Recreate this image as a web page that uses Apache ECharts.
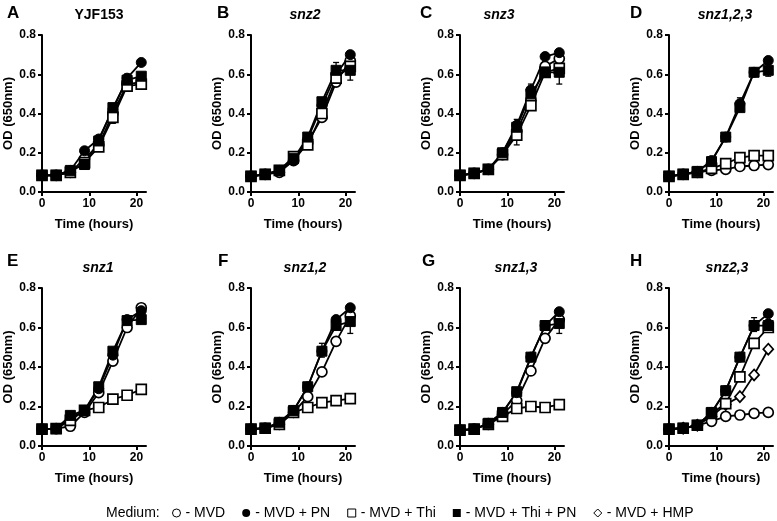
<!DOCTYPE html>
<html><head><meta charset="utf-8">
<script src="https://cdn.jsdelivr.net/npm/echarts@6/dist/echarts.min.js"></script>
<style>html,body{margin:0;padding:0;background:#fff}#c{width:777px;height:521px}</style>
</head><body><div id="c"></div>
<script>
// ---------- data ----------
const times = [0, 3, 6, 9, 12, 15, 18, 21];
const xTickValues = [0, 10, 20];
const yTickValues = [0, 0.2, 0.4, 0.6, 0.8];
const panelLetters = ['A', 'B', 'C', 'D', 'E', 'F', 'G', 'H'];
const panelTitles = ['YJF153', 'snz2', 'snz3', 'snz1,2,3', 'snz1', 'snz1,2', 'snz1,3', 'snz2,3'];
const mediumNames = ['- MVD', '- MVD + PN', '- MVD + Thi', '- MVD + Thi + PN', '- MVD + HMP'];

// A  YJF153
const A_MVD   = [0.085, 0.085, 0.10, 0.17, 0.24, 0.40, 0.55, 0.56];
const A_PN    = [0.085, 0.085, 0.11, 0.21, 0.27, 0.42, 0.58, 0.66];
const A_Thi   = [0.085, 0.085, 0.10, 0.15, 0.23, 0.38, 0.54, 0.55];
const A_ThiPN = [0.085, 0.085, 0.11, 0.14, 0.26, 0.43, 0.57, 0.59];
const A_err   = [[15, 0.35, 0.44], [18, 0.52, 0.60]];
// B  snz2
const B_MVD   = [0.08, 0.09, 0.10, 0.16, 0.25, 0.38, 0.56, 0.67];
const B_PN    = [0.08, 0.09, 0.11, 0.16, 0.27, 0.44, 0.60, 0.70];
const B_Thi   = [0.08, 0.09, 0.11, 0.18, 0.24, 0.40, 0.58, 0.64];
const B_ThiPN = [0.08, 0.09, 0.11, 0.17, 0.28, 0.46, 0.62, 0.62];
const B_err   = [[18, 0.58, 0.66], [21, 0.57, 0.67]];
// C  snz3
const C_MVD   = [0.085, 0.095, 0.115, 0.19, 0.31, 0.47, 0.64, 0.68];
const C_PN    = [0.085, 0.095, 0.115, 0.20, 0.34, 0.52, 0.69, 0.71];
const C_Thi   = [0.085, 0.095, 0.115, 0.19, 0.29, 0.44, 0.61, 0.63];
const C_ThiPN = [0.085, 0.095, 0.115, 0.20, 0.33, 0.50, 0.61, 0.61];
const C_err   = [[12, 0.24, 0.37], [15, 0.43, 0.55], [18, 0.64, 0.71], [21, 0.55, 0.66]];
// D  snz1,2,3
const D_MVD   = [0.08, 0.09, 0.10, 0.11, 0.115, 0.13, 0.135, 0.14];
const D_PN    = [0.08, 0.09, 0.105, 0.16, 0.28, 0.45, 0.61, 0.67];
const D_Thi   = [0.08, 0.09, 0.10, 0.12, 0.145, 0.175, 0.185, 0.185];
const D_ThiPN = [0.08, 0.09, 0.105, 0.155, 0.28, 0.43, 0.61, 0.62];
const D_err   = [[15, 0.41, 0.48], [18, 0.59, 0.63], [21, 0.59, 0.65]];
// E  snz1
const E_MVD   = [0.085, 0.088, 0.10, 0.17, 0.27, 0.43, 0.60, 0.70];
const E_PN    = [0.085, 0.088, 0.14, 0.18, 0.29, 0.46, 0.64, 0.685];
const E_Thi   = [0.085, 0.088, 0.13, 0.18, 0.195, 0.237, 0.257, 0.287];
const E_ThiPN = [0.085, 0.088, 0.155, 0.18, 0.30, 0.48, 0.635, 0.64];
const E_err   = [];
// F  snz1,2
const F_MVD   = [0.085, 0.09, 0.11, 0.17, 0.25, 0.375, 0.53, 0.66];
const F_PN    = [0.085, 0.09, 0.12, 0.18, 0.30, 0.48, 0.64, 0.70];
const F_Thi   = [0.085, 0.09, 0.11, 0.17, 0.195, 0.22, 0.23, 0.24];
const F_ThiPN = [0.085, 0.09, 0.12, 0.18, 0.30, 0.48, 0.61, 0.63];
const F_err   = [[15, 0.45, 0.52], [21, 0.57, 0.68]];
// G  snz1,3
const G_MVD   = [0.08, 0.085, 0.11, 0.16, 0.23, 0.38, 0.545, 0.64];
const G_PN    = [0.08, 0.085, 0.115, 0.17, 0.27, 0.45, 0.61, 0.68];
const G_Thi   = [0.08, 0.085, 0.11, 0.15, 0.19, 0.20, 0.195, 0.21];
const G_ThiPN = [0.08, 0.085, 0.115, 0.17, 0.275, 0.45, 0.61, 0.62];
const G_err   = [[18, 0.59, 0.63], [21, 0.57, 0.67]];
// H  snz2,3
const H_MVD   = [0.085, 0.09, 0.105, 0.125, 0.15, 0.157, 0.165, 0.17];
const H_PN    = [0.085, 0.09, 0.105, 0.17, 0.28, 0.45, 0.61, 0.67];
const H_Thi   = [0.085, 0.09, 0.105, 0.165, 0.215, 0.35, 0.52, 0.60];
const H_ThiPN = [0.085, 0.09, 0.105, 0.17, 0.28, 0.45, 0.61, 0.61];
const H_HMP   = [0.085, 0.09, 0.105, 0.15, 0.21, 0.25, 0.36, 0.49];
const H_err   = [[18, 0.58, 0.65], [21, 0.58, 0.64]];

const panels = [
  {mvd: A_MVD, pn: A_PN, thi: A_Thi, thipn: A_ThiPN, err: A_err},
  {mvd: B_MVD, pn: B_PN, thi: B_Thi, thipn: B_ThiPN, err: B_err},
  {mvd: C_MVD, pn: C_PN, thi: C_Thi, thipn: C_ThiPN, err: C_err},
  {mvd: D_MVD, pn: D_PN, thi: D_Thi, thipn: D_ThiPN, err: D_err},
  {mvd: E_MVD, pn: E_PN, thi: E_Thi, thipn: E_ThiPN, err: E_err},
  {mvd: F_MVD, pn: F_PN, thi: F_Thi, thipn: F_ThiPN, err: F_err},
  {mvd: G_MVD, pn: G_PN, thi: G_Thi, thipn: G_ThiPN, err: G_err},
  {mvd: H_MVD, pn: H_PN, thi: H_Thi, thipn: H_ThiPN, hmp: H_HMP, err: H_err}
];

// ---------- layout ----------
const FONT = 'Liberation Sans, Arial, sans-serif';
const colLeft = [42, 251, 460, 669];
const rowTop = [35, 288];
const rowH = [157, 158];
const gridW = 104;
const titleX = [94, 300, 494, 720, 93, 300, 511, 722];
const letterX = [2, 212, 415, 625, 2, 213, 417, 625];
const titleTop = [3, 256];
const letterTop = [0, 248];

const grids = [], xAxes = [], yAxes = [], series = [], titles = [];
const pair = arr => arr.map((v, i) => [times[i], v]);

function lineSeries(name, data, idx, symbol, filled, size) {
  return {
    type: 'line', name, data: pair(data), xAxisIndex: idx, yAxisIndex: idx,
    symbol, symbolSize: size, showSymbol: true, animation: false,
    lineStyle: {color: '#000', width: 1.8},
    itemStyle: filled ? {color: '#000', borderColor: '#000', borderWidth: 1}
                      : {color: '#fff', borderColor: '#000', borderWidth: 1.7},
    emphasis: {disabled: true}
  };
}

panels.forEach((p, i) => {
  const r = i < 4 ? 0 : 1, c = i % 4;
  grids.push({left: colLeft[c], top: rowTop[r], width: gridW, height: rowH[r], containLabel: false});
  xAxes.push({
    type: 'value', gridIndex: i, min: 0, max: 22, interval: 10,
    axisLine: {lineStyle: {color: '#000', width: 2}},
    axisTick: {show: true, length: 4, lineStyle: {color: '#000', width: 2}, customValues: xTickValues},
    splitLine: {show: false},
    axisLabel: {color: '#000', fontWeight: 'bold', fontSize: 12, fontFamily: FONT, margin: 6, customValues: xTickValues},
    name: 'Time (hours)', nameLocation: 'middle', nameGap: 26,
    nameTextStyle: {color: '#000', fontWeight: 'bold', fontSize: 13, fontFamily: FONT}
  });
  yAxes.push({
    type: 'value', gridIndex: i, min: 0, max: 0.8, interval: 0.2,
    axisLine: {show: true, lineStyle: {color: '#000', width: 2}},
    axisTick: {show: true, length: 4, lineStyle: {color: '#000', width: 2}},
    splitLine: {show: false},
    axisLabel: {color: '#000', fontWeight: 'bold', fontSize: 12, fontFamily: FONT, margin: 6,
                formatter: v => v.toFixed(1)},
    name: 'OD (650nm)', nameLocation: 'middle', nameGap: 27, nameRotate: 90,
    nameTextStyle: {color: '#000', fontWeight: 'bold', fontSize: 13, fontFamily: FONT}
  });
  titles.push({text: panelLetters[i], left: letterX[i], top: letterTop[r],
    textStyle: {fontSize: 17, fontWeight: 'bold', color: '#000', fontFamily: FONT}});
  titles.push({text: panelTitles[i], left: titleX[i], top: titleTop[r], textAlign: 'center',
    textStyle: {fontSize: 14, fontWeight: 'bold', fontStyle: i === 0 ? 'normal' : 'italic', color: '#000', fontFamily: FONT}});

  series.push({
    type: 'custom', xAxisIndex: i, yAxisIndex: i, data: p.err, z: 1, animation: false, silent: true,
    renderItem: (params, api) => {
      const x = api.value(0), lo = api.value(1), hi = api.value(2);
      const a = api.coord([x, lo]), b = api.coord([x, hi]);
      const w = 3;
      const st = {stroke: '#000', lineWidth: 1.3};
      return {type: 'group', children: [
        {type: 'line', shape: {x1: a[0], y1: a[1], x2: b[0], y2: b[1]}, style: st},
        {type: 'line', shape: {x1: a[0] - w, y1: a[1], x2: a[0] + w, y2: a[1]}, style: st},
        {type: 'line', shape: {x1: b[0] - w, y1: b[1], x2: b[0] + w, y2: b[1]}, style: st}
      ]};
    }
  });
  if (p.hmp) series.push(lineSeries(mediumNames[4], p.hmp, i, 'diamond', false, [10, 11]));
  series.push(lineSeries(mediumNames[0], p.mvd, i, 'circle', false, 10));
  series.push(lineSeries(mediumNames[1], p.pn, i, 'circle', true, 10));
  series.push(lineSeries(mediumNames[2], p.thi, i, 'rect', false, 10));
  series.push(lineSeries(mediumNames[3], p.thipn, i, 'rect', true, 10));
});

const openStyle = {color: '#fff', borderColor: '#000', borderWidth: 1};
const fillStyle = {color: '#000', borderColor: '#000', borderWidth: 0};

const option = {
  backgroundColor: '#fff',
  animation: false,
  textStyle: {fontFamily: FONT},
  title: titles,
  grid: grids,
  xAxis: xAxes,
  yAxis: yAxes,
  series,
  graphic: [{type: 'text', x: 106, y: 513, style: {text: 'Medium:', font: '14px ' + FONT, fill: '#000', verticalAlign: 'middle'}}],
  legend: {
    left: 172, top: 506, padding: 0, itemWidth: 8, itemHeight: 8, itemGap: 17, selectedMode: false,
    textStyle: {fontSize: 14, color: '#000', fontFamily: FONT},
    data: [
      {name: mediumNames[0], icon: 'circle', itemStyle: openStyle},
      {name: mediumNames[1], icon: 'circle', itemStyle: fillStyle},
      {name: mediumNames[2], icon: 'rect', itemStyle: openStyle},
      {name: mediumNames[3], icon: 'rect', itemStyle: fillStyle},
      {name: mediumNames[4], icon: 'diamond', itemStyle: openStyle}
    ]
  }
};

const chart = echarts.init(document.getElementById('c'), null, {renderer: 'canvas'});
chart.setOption(option);
</script>
</body></html>
